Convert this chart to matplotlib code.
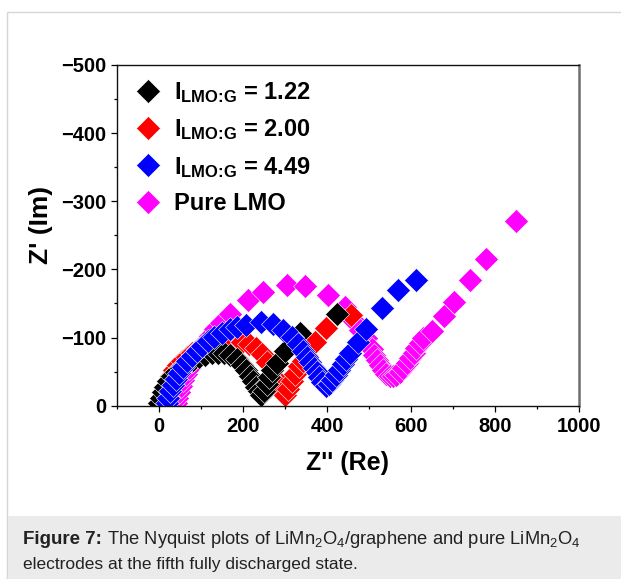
import matplotlib
matplotlib.use("Agg")
import matplotlib.pyplot as plt
from matplotlib.lines import Line2D
from matplotlib.patches import Rectangle

LMO_122_RE = [0, 4, 9, 15, 22, 30, 40, 52, 66, 80, 95, 110, 125, 140, 155, 170,
              185, 198, 208, 216, 224, 231, 237, 244, 250, 256, 262, 268, 280,
              300, 335, 424]
LMO_122_IM = [-4, -12, -20, -28, -36, -43, -50, -56, -62, -67, -72, -75, -77,
              -78, -77, -74, -68, -60, -52, -44, -36, -28, -21, -16, -22, -32,
              -42, -52, -62, -81, -106, -134]

LMO_200_RE = [2, 6, 10, 15, 21, 28, 36, 45, 55, 66, 78, 92, 107, 122, 140, 160,
              178, 197, 215, 232, 246, 258, 268, 276, 284, 292, 300, 308, 316,
              324, 333, 342, 351, 371, 397, 458]
LMO_200_IM = [-4, -12, -20, -28, -36, -44, -52, -59, -66, -72, -78, -83, -87,
              -90, -93, -95, -96, -94, -90, -84, -76, -64, -52, -40, -30, -20,
              -16, -25, -36, -47, -58, -66, -74, -93, -114, -133]

LMO_449_RE = [18, 22, 27, 33, 40, 48, 57, 67, 78, 90, 103, 117, 132, 150, 168,
              185, 208, 244, 272, 296, 316, 331, 343, 352, 360, 368, 375, 382,
              389, 397, 405, 413, 421, 429, 438, 446, 455, 474, 494, 530, 568,
              611]
LMO_449_IM = [-4, -12, -21, -30, -39, -48, -57, -65, -73, -81, -88, -95, -101,
              -107, -112, -116, -119, -123, -120, -111, -101, -91, -81, -72,
              -64, -56, -49, -42, -35, -29, -32, -38, -45, -53, -61, -69, -78,
              -94, -112, -144, -170, -184]

PURE_RE = [40, 44, 48, 53, 58, 64, 71, 79, 88, 98, 109, 121, 134, 148, 168, 212,
           248, 304, 347, 403, 442, 465, 478, 494, 506, 512, 518, 525, 533, 541,
           549, 557, 565, 574, 582, 590, 598, 606, 613, 621, 629, 649, 679, 703,
           740, 779, 851]
PURE_IM = [-4, -12, -20, -29, -38, -47, -56, -65, -74, -83, -92, -102, -112,
           -121, -135, -155, -167, -177, -176, -162, -145, -124, -111, -99, -83,
           -75, -67, -60, -53, -47, -44, -43, -45, -50, -56, -63, -70, -77, -84,
           -92, -99, -110, -131, -152, -184, -215, -271]

LABELS = [r"$\mathregular{I_{\text{LMO:G}}}$ = 1.22",
          r"$\mathregular{I_{\text{LMO:G}}}$ = 2.00",
          r"$\mathregular{I_{\text{LMO:G}}}$ = 4.49", "Pure LMO"]
COLORS = ["#000000", "#ff0000", "#0000ff", "#ff00ff"]

plt.rcParams.update({
    "font.family": "Liberation Sans",
    "font.weight": "bold",
    "mathtext.fontset": "custom",
    "mathtext.rm": "Liberation Sans:bold",
    "mathtext.bf": "Liberation Sans:bold",
})

W, H = 621, 579
fig = plt.figure(figsize=(W / 100, H / 100), dpi=100)

# page panel: thin border and grey caption band
fig.add_artist(Rectangle((7 / W, 0), 1, 1 - 12 / H, transform=fig.transFigure,
                         facecolor="white", edgecolor="#d6d6d6", lw=1.0, zorder=0))
fig.add_artist(Rectangle((7.5 / W, 0), 1, 1 - 516 / H, transform=fig.transFigure,
                         facecolor="#ebebeb", edgecolor="none", zorder=0.5))

ax = fig.add_axes([117 / W, 1 - 405.7 / H, 462 / W, 340.7 / H])

ms = 12.0
series = [
    (PURE_RE, PURE_IM, COLORS[3]),
    (LMO_200_RE, LMO_200_IM, COLORS[1]),
    (LMO_122_RE, LMO_122_IM, COLORS[0]),
    (LMO_449_RE, LMO_449_IM, COLORS[2]),
]
for xs, ys, c in series:
    ax.plot(xs, ys, "D", ms=ms, color=c, mec="white", mew=0.4, ls="none")

ax.set_xlim(-100, 1000)
ax.set_ylim(0, -500)
ax.set_xticks(range(0, 1001, 200))
ax.set_xticks(range(-100, 1001, 100), minor=True)
ax.set_yticks(range(0, -501, -100))
ax.set_yticks(range(0, -501, -50), minor=True)
ax.tick_params(which="major", direction="out", length=4.5, width=0.9,
               labelsize=14.5, pad=3.5)
ax.tick_params(which="minor", direction="out", length=2.5, width=0.9)
for lab in ax.get_xticklabels() + ax.get_yticklabels():
    lab.set_fontweight("bold")

for s in ("left", "bottom", "top"):
    ax.spines[s].set_linewidth(1.0)
    ax.spines[s].set_color("#111111")
ax.spines["right"].set_linewidth(1.8)
ax.spines["right"].set_color("#6e6e6e")

ax.set_xlabel("Z'' (Re)", fontsize=18, fontweight="bold")
ax.set_ylabel("Z' (Im)", fontsize=19, fontweight="bold")
ax.xaxis.set_label_coords(0.5, -0.168)
ax.xaxis.label.set_va("center")
ax.yaxis.set_label_coords(-0.165, 0.530)
ax.yaxis.label.set_va("center")

handles = [Line2D([], [], marker="D", ls="none", ms=ms, color=c, mec="white",
                  mew=0.4) for c in COLORS]
ax.legend(handles, LABELS, loc="upper left", bbox_to_anchor=(0.0416, 0.955),
          frameon=False, borderaxespad=0, borderpad=0,
          handlelength=1.0, handletextpad=0.6, labelspacing=0.52,
          prop={"weight": "bold", "size": 17})

# caption
fig.canvas.draw()
r = fig.canvas.get_renderer()
t1 = fig.text(23 / W, 1 - 544 / H, "Figure 7:", fontsize=13.5, fontweight="bold",
              color="#222222", va="baseline", ha="left")
bb = t1.get_window_extent(renderer=r)
fig.text((bb.x1 + 5) / W, 1 - 544 / H,
         r"The Nyquist plots of LiMn$\mathregular{_2}$O$\mathregular{_4}$/graphene"
         r" and pure LiMn$\mathregular{_2}$O$\mathregular{_4}$",
         fontsize=13.2, fontweight="normal", color="#222222", va="baseline",
         ha="left")
fig.text(23 / W, 1 - 569 / H, "electrodes at the fifth fully discharged state.",
         fontsize=12.5, fontweight="normal", color="#222222", va="baseline",
         ha="left")

fig.savefig("out.png", dpi=100, facecolor="white")
